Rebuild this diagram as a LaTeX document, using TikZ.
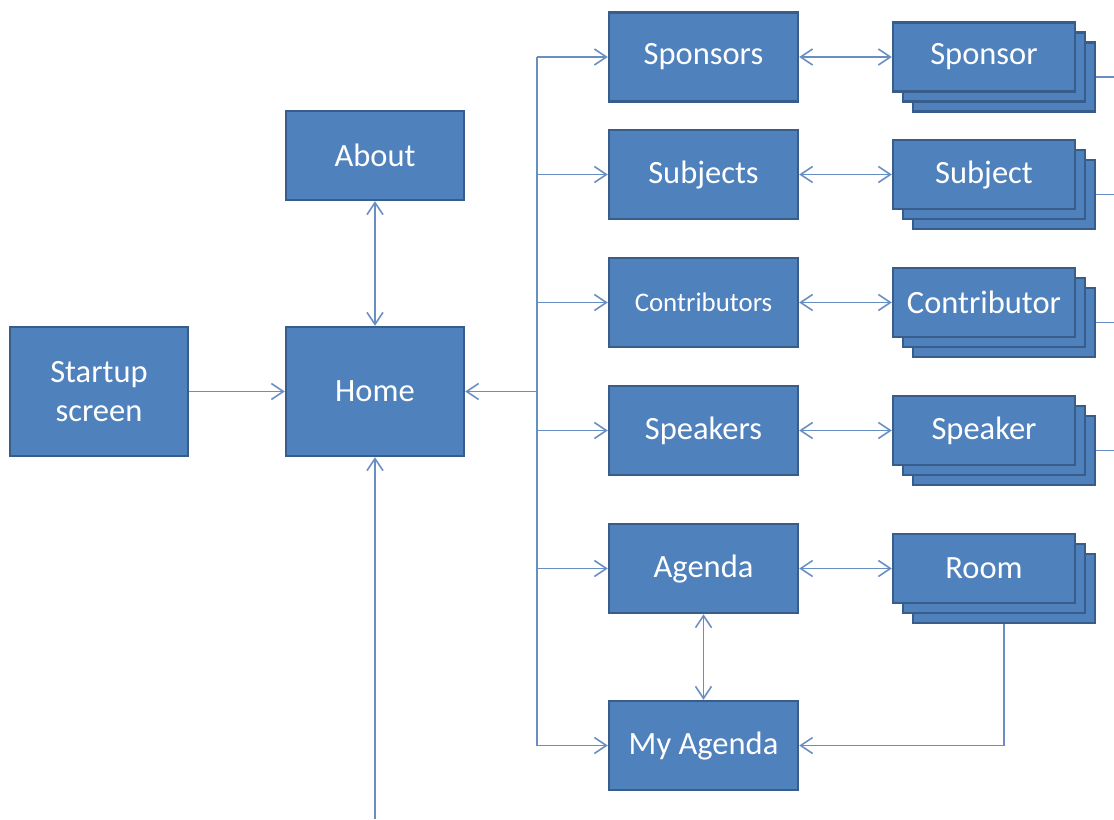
\documentclass[tikz,border=0pt]{standalone}
\usepackage{fontspec}
\setmainfont{Carlito}
\usetikzlibrary{arrows.meta}
\definecolor{boxblue}{RGB}{79,129,189}
\definecolor{edgeblue}{RGB}{56,93,138}
\definecolor{lineblue}{RGB}{104,142,196}

\begin{document}
\begin{tikzpicture}[x=0.02cm, y=-0.02cm,
    screen/.style={draw=edgeblue, fill=boxblue, line width=1.4pt, text=white,
      minimum width=3.78cm, minimum height=1.78cm, inner sep=2pt,
      font=\fontsize{18.5}{22}\selectfont, align=center},
    card/.style={screen, minimum width=3.64cm, minimum height=1.38cm},
    link/.style={draw=lineblue, line width=0.9pt},
    >={Straight Barb[length=2.4mm, width=3.2mm]}]
\useasboundingbox (0,0) rectangle (1114,819);

\node[screen, minimum width=3.56cm, minimum height=2.58cm] (start) at (99,391.5) {Startup\\screen};
\node[screen, minimum width=3.56cm, minimum height=2.58cm] (home) at (375,391.5) {Home};
\node[screen, minimum width=3.56cm] (about) at (375,155.5) {About};

\node[screen] (spons) at (703.5,57) {Sponsors};
\node[screen] (subj) at (703.5,174.5) {Subjects};
\node[screen, font=\fontsize{15.3}{18}\selectfont] (contr) at (703.5,302.5) {Contributors};
\node[screen] (speak) at (703.5,430.5) {Speakers};
\node[screen] (agenda) at (703.5,568.5) {Agenda};
\node[screen] (myag) at (703.5,745.5) {My Agenda};

% stacked detail screens
\foreach \n/\y/\t/\m in {spon/57/Sponsor/spons, sub/174.5/Subject/subj,
    con/302.5/Contributor/contr, spk/430.5/Speaker/speak, room/568.5/Room/agenda} {
  \foreach \d in {20,10}
    \node[card] (\n-b\d) at (984+\d,\y+\d) {};
  \node[card] (\n) at (984,\y) {\t};
  \draw[link, <->] (\m) -- (\n);
}
\foreach \n in {spon, sub, con, spk} {
  \coordinate (\n-out) at (1114,0);
  \draw[link] (\n-b20.east) -- (\n-b20.east -| \n-out);
}

\coordinate (bus) at (537,0);
\coordinate (bottom) at (375,819);

\draw[link, ->] (start) -- (home);
\draw[link, <->] (about) -- (home);
\draw[link, ->] (bottom) -- (home.south);
\draw[link, ->] (home.east -| bus) -- (home.east);
\draw[link] (spons.west -| bus) -- (myag.west -| bus);
\foreach \m in {spons, subj, contr, speak, agenda, myag}
  \draw[link, ->] (\m.west -| bus) -- (\m.west);
\draw[link, <->] (agenda) -- (myag);
\draw[link, ->] (room-b20.south) |- (myag.east);
\end{tikzpicture}
\end{document}
